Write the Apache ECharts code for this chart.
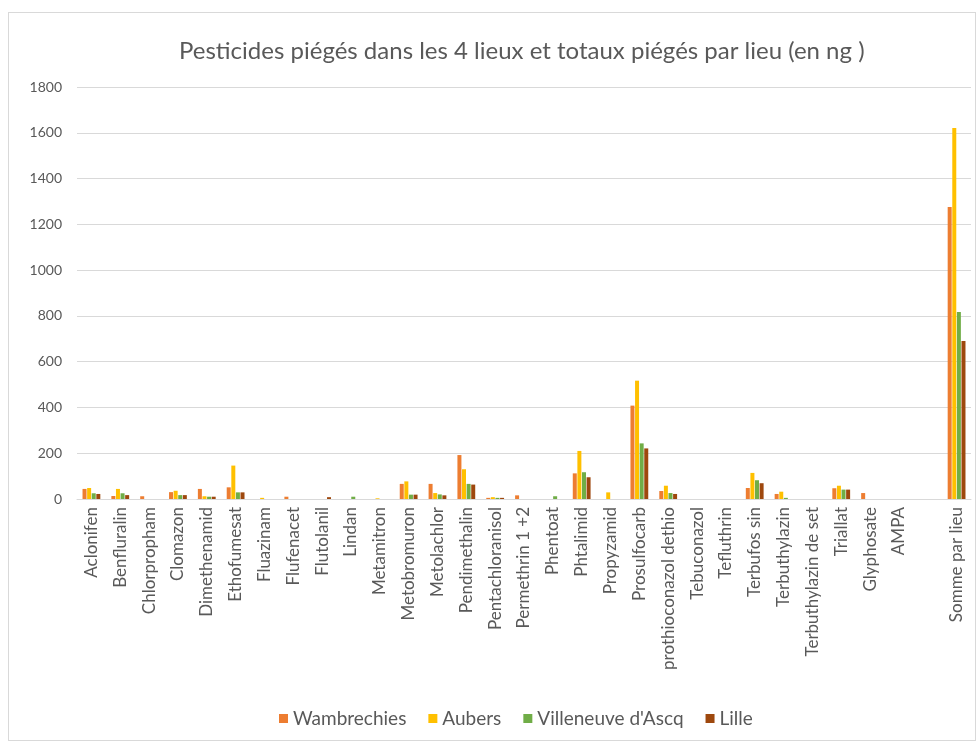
<!DOCTYPE html>
<html>
<head>
<meta charset="utf-8">
<script src="https://cdn.jsdelivr.net/npm/echarts@6/dist/echarts.min.js"></script>
<style>
  body { margin: 0; background: #fff; }
  #frame { position: absolute; left: 8px; top: 12px; width: 966px; height: 727px; border: 1px solid #d9d9d9; }
  #chart { position: absolute; left: 0; top: 0; width: 980px; height: 745px; }
</style>
</head>
<body>
<div id="frame"></div>
<div id="chart"></div>
<script>
// categories (the blank one is the spacer before the totals)
var categories = ['Aclonifen', 'Benfluralin', 'Chlorpropham', 'Clomazon', 'Dimethenamid', 'Ethofumesat',
  'Fluazinam', 'Flufenacet', 'Flutolanil', 'Lindan', 'Metamitron', 'Metobromuron', 'Metolachlor',
  'Pendimethalin', 'Pentachloranisol', 'Permethrin 1 +2', 'Phentoat', 'Phtalimid', 'Propyzamid',
  'Prosulfocarb', 'prothioconazol dethio', 'Tebuconazol', 'Tefluthrin', 'Terbufos sin', 'Terbuthylazin',
  'Terbuthylazin de set', 'Triallat', 'Glyphosate', 'AMPA', '', 'Somme par lieu']

var wambrechies = [44, 13, 12, 30, 44, 51, 0, 10, 0, 0, 0, 66, 66, 192, 5, 16, 0, 112, 0, 408, 35, 0, 0, 48, 22, 0, 47, 26, 0, null, 1276]
var aubers = [48, 44, 0, 36, 12, 146, 5, 0, 0, 0, 3, 77, 26, 130, 8, 0, 0, 210, 29, 517, 58, 0, 0, 114, 32, 0, 58, 0, 0, null, 1621]
var villeneuve = [25, 25, 0, 17, 10, 29, 0, 0, 0, 10, 0, 19, 20, 66, 5, 0, 12, 117, 0, 243, 26, 0, 0, 82, 5, 0, 41, 0, 0, null, 817]
var lille = [22, 17, 0, 17, 10, 29, 0, 0, 8, 0, 0, 19, 16, 63, 5, 0, 0, 95, 0, 221, 22, 0, 0, 69, 0, 0, 41, 0, 0, null, 690]

var yTicks = { min: 0, max: 1800, interval: 200 }

var font = 'Lato, "Open Sans", sans-serif'
var grey = '#595959'

function serie (name, data, color) {
  return {
    name: name,
    type: 'bar',
    data: data,
    barWidth: 4,
    barGap: '15%',
    itemStyle: { color: color }
  }
}

var myChart = echarts.init(document.getElementById('chart'))
myChart.setOption({
  textStyle: { fontFamily: font },
  title: {
    text: 'Pesticides piégés dans les 4 lieux et totaux piégés par lieu (en ng )',
    left: 174,
    top: 34,
    textStyle: { fontFamily: font, fontSize: 24, fontWeight: 'normal', color: grey }
  },
  legend: {
    bottom: 12,
    left: 274,
    itemWidth: 9,
    itemHeight: 9,
    itemGap: 22,
    icon: 'rect',
    textStyle: { fontFamily: font, fontSize: 19, color: grey }
  },
  grid: { left: 77, right: 9, top: 87, bottom: 246 },
  xAxis: {
    type: 'category',
    data: categories,
    axisTick: { show: false },
    axisLine: { lineStyle: { color: '#d9d9d9' } },
    axisLabel: { rotate: 90, interval: 0, fontFamily: font, fontSize: 17, color: grey, margin: 8 }
  },
  yAxis: {
    type: 'value',
    min: yTicks.min,
    max: yTicks.max,
    interval: yTicks.interval,
    axisLine: { show: false },
    axisTick: { show: false },
    splitLine: { lineStyle: { color: '#d9d9d9' } },
    axisLabel: { fontFamily: font, fontSize: 14, color: grey, margin: 15, formatter: function (v) { return String(v) } }
  },
  series: [
    serie('Wambrechies', wambrechies, '#ED7D31'),
    serie('Aubers', aubers, '#FFC000'),
    serie("Villeneuve d'Ascq", villeneuve, '#70AD47'),
    serie('Lille', lille, '#9E480E')
  ]
})
</script>
</body>
</html>
